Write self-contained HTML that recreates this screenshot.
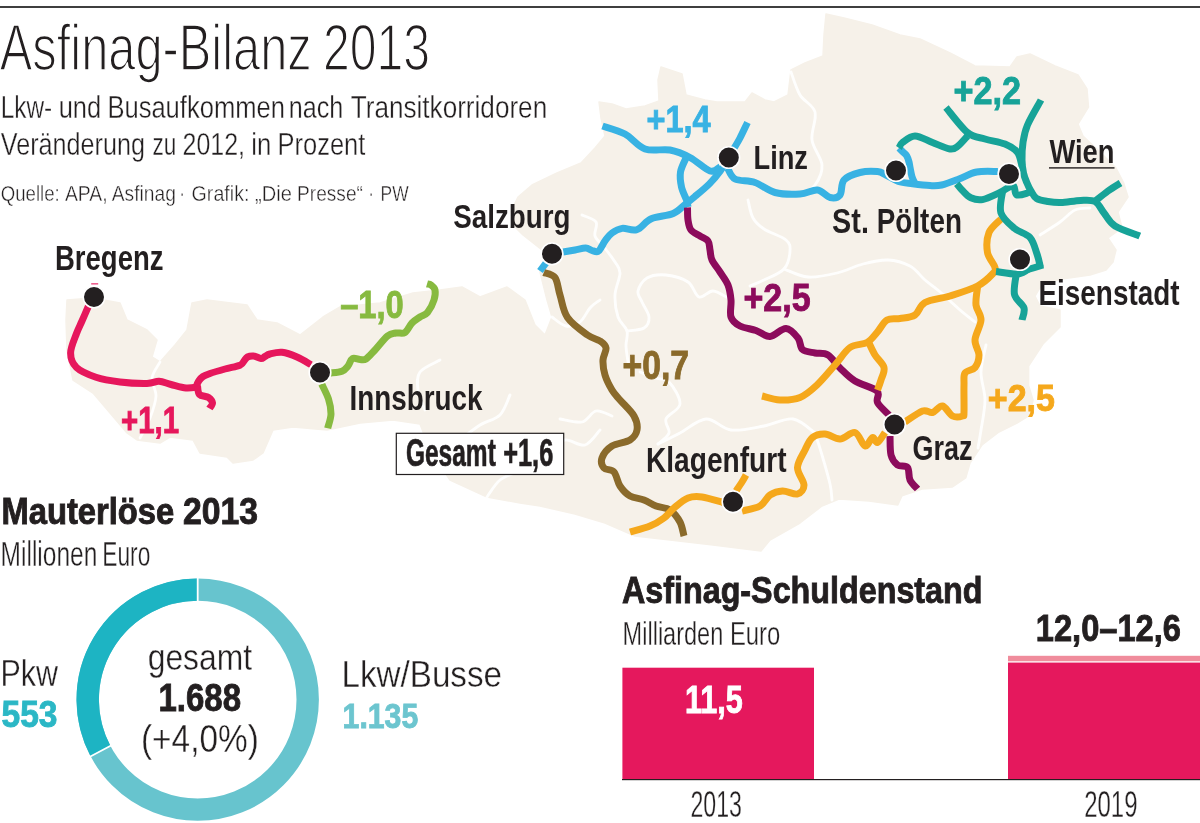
<!DOCTYPE html>
<html lang="de"><head><meta charset="utf-8"><title>Asfinag-Bilanz 2013</title>
<style>
html,body{margin:0;padding:0;background:#fff}
body{width:1200px;height:823px;overflow:hidden}
svg{display:block}
text{font-family:"Liberation Sans",sans-serif;fill:#231f20}
.b{font-weight:bold}
.h{font-weight:bold;stroke:#231f20;stroke-width:.9px}
.c{stroke:none}
.t1{stroke:#fff;stroke-width:1.7px;paint-order:fill stroke}
.lt{stroke:#fff;stroke-width:.35px;paint-order:fill stroke}
.lt2{stroke:#fff;stroke-width:.4px;paint-order:fill stroke}
.r{fill:none;stroke-width:7;stroke-linecap:butt;stroke-linejoin:round}
.bd{fill:none;stroke:#fff;stroke-width:2.8;stroke-linejoin:round;stroke-linecap:round;opacity:.95}
</style></head><body>
<svg width="1200" height="823" viewBox="0 0 1200 823">
<rect width="1200" height="823" fill="#fff"/>

<g fill="#f6f1e9" stroke="#f6f1e9" stroke-width="1.5" stroke-linejoin="round">
<path d="M67.0 300.0L93.0 298.0L120.0 303.0L127.0 320.0L147.0 330.0L157.0 340.0L152.0 357.0L160.0 362.0L175.0 345.0L187.0 330.0L192.0 303.0L207.0 300.0L247.0 305.0L257.0 320.0L277.0 323.0L300.0 335.0L323.0 317.0L340.0 307.0L380.0 303.0L413.0 293.0L440.0 290.0L462.0 287.0L480.0 297.0L507.0 287.0L525.0 300.0L535.0 325.0L545.0 335.0L552.0 317.0L547.0 300.0L540.0 272.0L546.0 262.0L542.0 250.0L523.0 235.0L513.0 225.0L511.0 211.0L518.0 197.0L532.0 185.0L557.0 173.0L581.0 163.0L595.0 148.0L605.0 136.0L601.0 118.0L599.0 102.0L612.0 104.0L626.0 109.0L645.0 106.0L659.0 101.0L658.0 80.0L661.0 67.0L682.0 74.0L686.0 95.0L705.0 100.0L717.0 102.0L745.0 102.0L752.0 93.0L765.0 100.0L774.0 102.0L788.0 95.0L791.0 70.0L805.0 63.0L823.0 56.0L824.0 35.0L826.0 14.0L844.0 18.0L872.0 25.0L900.0 35.0L920.0 39.0L950.0 53.0L975.0 66.0L1010.0 67.0L1017.0 57.0L1030.0 54.0L1055.0 66.0L1078.0 75.0L1087.0 89.0L1088.5 107.0L1078.0 124.0L1083.0 136.0L1100.0 152.0L1116.0 168.0L1123.5 182.5L1128.0 197.0L1118.0 212.0L1122.0 228.0L1108.0 238.0L1116.0 250.0L1113.0 262.0L1106.0 270.0L1090.0 275.0L1062.0 279.0L1042.0 284.0L1035.0 296.0L1040.0 306.0L1060.0 310.0L1060.0 327.0L1043.0 344.0L1028.6 366.0L1028.6 385.5L1033.0 400.0L1030.0 415.0L1017.0 423.0L999.0 432.0L982.0 445.0L970.0 463.0L965.7 478.0L952.5 487.0L922.0 489.0L902.0 495.7L897.8 505.0L869.0 501.0L839.0 499.0L822.0 506.0L800.0 523.0L770.0 540.0L761.0 551.0L713.0 545.0L670.0 540.0L635.0 536.0L605.0 523.0L575.0 514.0L540.0 506.0L520.0 503.0L487.0 497.0L450.0 480.0L430.0 450.0L420.0 424.0L393.0 420.0L360.0 423.0L327.0 430.0L293.0 427.0L273.0 430.0L263.0 453.0L253.0 460.0L233.0 463.0L227.0 457.0L200.0 453.0L193.0 440.0L170.0 437.0L160.0 443.0L137.0 440.0L127.0 433.0L110.0 413.0L93.0 393.0L73.0 380.0L67.0 350.0L66.0 320.0Z"/>
</g>
<g class="bd">
<path d="M160.0 362.0C158.7 364.7 152.7 372.3 152.0 378.0C151.3 383.7 156.3 389.3 156.0 396.0C155.7 402.7 152.7 411.0 150.0 418.0C147.3 425.0 141.7 434.7 140.0 438.0"/>
<path d="M748.0 200.0C748.8 203.0 750.3 213.2 753.0 218.0C755.7 222.8 758.5 225.3 764.0 229.0C769.5 232.7 781.7 236.3 786.0 240.0C790.3 243.7 790.3 246.2 790.0 251.0C789.7 255.8 788.3 264.2 784.0 269.0C779.7 273.8 769.7 277.2 764.0 280.0C758.3 282.8 752.3 285.0 750.0 286.0"/>
<path d="M784.0 269.0C788.0 270.3 799.2 276.3 808.0 277.0C816.8 277.7 827.8 275.2 837.0 273.0C846.2 270.8 854.5 266.2 863.0 264.0C871.5 261.8 880.2 259.7 888.0 260.0C895.8 260.3 903.8 262.7 910.0 266.0C916.2 269.3 920.2 275.8 925.0 280.0C929.8 284.2 933.2 286.0 939.0 291.0C944.8 296.0 954.0 304.8 960.0 310.0C966.0 315.2 972.5 320.0 975.0 322.0"/>
<path d="M552.0 317.0C554.3 318.5 561.3 325.2 566.0 326.0C570.7 326.8 576.0 325.0 580.0 322.0C584.0 319.0 586.7 311.7 590.0 308.0C593.3 304.3 598.3 301.3 600.0 300.0"/>
<path d="M582.0 215.0C584.3 216.2 593.8 218.5 596.0 222.0C598.2 225.5 593.7 231.8 595.0 236.0C596.3 240.2 600.7 242.7 604.0 247.0C607.3 251.3 612.3 257.7 615.0 262.0C617.7 266.3 620.0 267.5 620.0 273.0C620.0 278.5 615.3 287.7 615.0 295.0C614.7 302.3 616.0 311.0 618.0 317.0C620.0 323.0 625.7 326.2 627.0 331.0C628.3 335.8 625.8 340.8 626.0 346.0C626.2 351.2 627.7 359.3 628.0 362.0"/>
<path d="M627.0 331.0C629.8 330.5 640.3 330.3 644.0 328.0C647.7 325.7 649.3 321.3 649.0 317.0C648.7 312.7 643.8 306.3 642.0 302.0C640.2 297.7 637.2 295.0 638.0 291.0C638.8 287.0 642.3 280.7 647.0 278.0C651.7 275.3 659.2 274.3 666.0 275.0C672.8 275.7 682.5 278.3 688.0 282.0C693.5 285.7 694.8 295.5 699.0 297.0C703.2 298.5 708.2 290.8 713.0 291.0C717.8 291.2 725.5 296.8 728.0 298.0"/>
<path d="M640.0 372.0C642.5 373.0 650.2 376.3 655.0 378.0C659.8 379.7 664.8 377.7 669.0 382.0C673.2 386.3 680.5 397.8 680.0 404.0C679.5 410.2 667.8 414.2 666.0 419.0C664.2 423.8 670.3 428.8 669.0 433.0C667.7 437.2 659.8 442.2 658.0 444.0"/>
<path d="M658.0 444.0C661.7 442.2 672.0 437.2 680.0 433.0C688.0 428.8 697.5 419.5 706.0 419.0C714.5 418.5 721.3 428.8 731.0 430.0C740.7 431.2 753.7 427.8 764.0 426.0C774.3 424.2 784.5 417.8 793.0 419.0C801.5 420.2 811.3 430.7 815.0 433.0"/>
<path d="M560.0 419.0C563.7 419.5 576.0 423.3 582.0 422.0C588.0 420.7 591.0 412.0 596.0 411.0C601.0 410.0 609.3 415.2 612.0 416.0"/>
<path d="M815.0 433.0C816.2 436.7 819.5 446.5 822.0 455.0C824.5 463.5 828.3 476.5 830.0 484.0C831.7 491.5 831.7 497.3 832.0 500.0"/>
<path d="M791.0 72.0C792.5 75.8 796.0 88.3 800.0 95.0C804.0 101.7 813.0 104.5 815.0 112.0C817.0 119.5 810.8 131.2 812.0 140.0C813.2 148.8 821.5 157.5 822.0 165.0C822.5 172.5 818.7 180.0 815.0 185.0C811.3 190.0 802.5 193.3 800.0 195.0"/>
<path d="M1040.0 235.0C1043.3 232.8 1054.2 226.2 1060.0 222.0C1065.8 217.8 1070.0 212.3 1075.0 210.0C1080.0 207.7 1087.5 208.3 1090.0 208.0"/>
<path d="M978.0 448.0C978.5 445.0 979.8 438.0 981.0 430.0C982.2 422.0 985.0 409.7 985.0 400.0C985.0 390.3 980.8 381.2 981.0 372.0C981.2 362.8 985.2 349.5 986.0 345.0"/>
<path d="M487.0 497.0C489.2 494.2 494.5 484.5 500.0 480.0C505.5 475.5 512.0 475.0 520.0 470.0C528.0 465.0 540.5 455.0 548.0 450.0C555.5 445.0 558.8 440.8 565.0 440.0C571.2 439.2 579.2 446.7 585.0 445.0C590.8 443.3 597.5 432.5 600.0 430.0"/>
<path d="M460.0 440.0C463.3 437.5 473.3 429.2 480.0 425.0C486.7 420.8 495.0 420.0 500.0 415.0C505.0 410.0 508.3 398.3 510.0 395.0"/>
<path d="M440.0 360.0C436.7 362.0 423.7 367.0 420.0 372.0C416.3 377.0 417.2 383.7 418.0 390.0C418.8 396.3 423.8 406.7 425.0 410.0"/>
</g>
<rect x="0" y="6.1" width="1200" height="1.8" fill="#2b2b2b"/>
<g class="r" stroke="#e6175c">
<path d="M88.5 306.0C87.4 308.5 84.0 316.4 82.0 321.0C80.0 325.6 78.4 328.2 76.5 333.5C74.6 338.8 70.6 347.3 70.6 353.0C70.6 358.7 72.3 363.5 76.5 367.5C80.7 371.5 88.8 374.8 96.0 377.2C103.2 379.6 111.5 380.9 120.0 382.0C128.5 383.1 140.5 383.6 147.0 383.5C153.5 383.4 155.0 381.1 159.0 381.3C163.0 381.5 166.5 383.4 171.0 384.5C175.5 385.6 181.5 387.6 186.0 388.0C190.5 388.4 196.0 387.2 198.0 387.0"/>
<path d="M196.0 387.3C196.4 386.2 197.5 382.8 198.7 381.0C199.9 379.2 201.1 377.8 203.0 376.5C204.9 375.2 206.3 374.8 210.0 373.5C213.7 372.2 220.0 370.4 225.0 369.0C230.0 367.6 236.8 366.5 240.0 365.2C243.2 363.9 242.8 362.4 244.0 361.0C245.2 359.6 245.9 357.8 247.5 357.0C249.1 356.2 251.2 355.8 253.5 356.0C255.8 356.2 259.1 358.4 261.0 358.5C262.9 358.6 263.5 357.2 265.0 356.5C266.5 355.8 267.2 354.7 270.0 354.0C272.8 353.3 277.5 351.8 282.0 352.3C286.5 352.8 292.2 354.9 297.0 357.0C301.8 359.1 308.7 363.4 311.0 364.7"/>
<path d="M197.5 386.0C197.8 387.4 197.7 392.6 199.5 394.5C201.3 396.4 206.3 396.1 208.5 397.5C210.7 398.9 212.3 401.2 212.5 403.0C212.7 404.8 210.0 407.6 209.5 408.5"/>
</g>
<g class="r" stroke="#87ba40">
<path d="M330.0 373.0C332.0 372.7 339.0 372.4 342.0 371.2C345.0 370.0 346.2 368.1 348.0 366.0C349.8 363.9 350.5 359.6 352.5 358.5C354.5 357.4 357.8 359.4 360.0 359.5C362.2 359.6 363.5 360.6 366.0 359.0C368.5 357.4 371.4 353.8 375.0 350.0C378.6 346.2 384.0 338.8 387.5 336.0C391.0 333.2 393.1 333.6 396.0 333.0C398.9 332.4 402.3 334.2 405.0 332.5C407.7 330.8 409.5 325.6 412.0 323.0C414.5 320.4 417.4 318.8 420.0 317.0C422.6 315.2 425.2 315.3 427.5 312.5C429.8 309.7 432.8 303.8 434.0 300.0C435.2 296.2 435.5 292.5 435.0 290.0C434.5 287.5 432.3 286.0 431.0 285.0C429.7 284.0 427.7 284.2 427.0 284.0"/>
<path d="M321.7 384.0C322.8 386.5 326.9 394.0 328.5 399.0C330.1 404.0 331.1 409.1 331.0 414.0C330.9 418.9 328.2 425.8 327.7 428.2"/>
</g>
<g class="r" stroke="#38b2e3">
<path d="M563.0 252.0C565.0 251.7 571.2 250.7 575.0 250.0C578.8 249.3 582.9 247.9 585.7 248.0C588.5 248.1 590.0 249.9 592.0 250.5C594.0 251.1 596.2 252.2 597.9 251.5C599.6 250.8 600.8 247.8 602.0 246.0C603.2 244.2 603.5 242.8 605.2 240.6C606.9 238.4 609.2 235.0 612.0 233.0C614.8 231.0 618.1 229.0 622.2 228.4C626.3 227.8 631.9 231.3 636.7 229.7C641.6 228.1 645.2 221.4 651.3 218.7C657.4 216.0 667.5 216.0 673.2 213.5C678.9 211.0 682.1 206.7 685.7 203.9C689.3 201.1 690.8 199.9 694.8 196.6C698.8 193.3 705.1 188.2 709.4 183.9C713.6 179.6 717.4 175.0 720.3 171.0C723.2 167.0 725.9 161.8 727.0 160.0"/>
<path d="M546.0 263.0C545.0 264.3 541.0 269.7 540.0 271.0"/>
<path d="M602.5 126.0C606.2 127.3 617.9 130.2 625.0 134.0C632.1 137.8 637.5 146.3 645.0 149.0C652.5 151.7 662.5 148.6 670.0 150.0C677.5 151.4 683.3 154.0 690.0 157.5C696.7 161.0 705.0 169.4 710.0 171.0C715.0 172.6 718.3 167.7 720.0 167.0"/>
<path d="M686.5 157.0C685.5 159.5 681.3 167.0 680.5 172.0C679.7 177.0 680.5 182.3 681.5 187.0C682.5 191.7 685.4 196.7 686.5 200.0C687.6 203.3 687.8 205.8 688.0 207.0"/>
<path d="M733.0 150.0C734.2 148.0 737.6 142.6 740.0 138.0C742.4 133.4 746.2 125.1 747.5 122.5"/>
<path d="M727.5 168.0C728.8 169.8 730.4 176.6 735.0 179.0C739.6 181.4 748.3 180.2 755.0 182.5C761.7 184.8 767.5 190.6 775.0 192.5C782.5 194.4 792.9 194.4 800.0 194.0C807.1 193.6 812.5 189.4 817.5 190.0C822.5 190.6 826.2 196.7 830.0 197.5C833.8 198.3 837.7 197.9 840.0 195.0C842.3 192.1 840.7 183.8 844.0 180.0C847.3 176.2 854.4 173.9 860.0 172.5C865.6 171.1 873.2 171.2 877.5 171.6C881.8 172.0 882.5 173.3 886.0 175.0C889.5 176.7 894.1 180.0 898.5 181.5C902.9 183.0 907.2 183.1 912.5 183.8C917.8 184.5 925.1 185.4 930.0 185.6C934.9 185.8 936.9 186.1 941.7 185.0C946.5 183.9 953.2 181.2 959.0 179.0C964.8 176.8 970.2 173.2 976.7 172.0C983.2 170.8 994.5 171.6 998.0 171.5"/>
<path d="M899.0 148.0C899.7 148.7 901.7 150.7 903.0 152.0C904.3 153.3 905.7 154.1 906.7 155.8C907.7 157.5 908.5 160.1 909.0 162.0C909.5 163.9 909.5 165.0 910.0 167.5C910.5 170.0 911.2 174.2 912.0 176.8C912.8 179.4 914.3 182.0 914.8 183.0"/>
</g>
<g class="r" stroke="#8a6a2b">
<path d="M543.8 272.5C545.6 273.3 552.3 273.8 555.0 277.5C557.7 281.2 557.9 288.3 560.0 295.0C562.1 301.7 562.9 310.8 567.5 317.5C572.1 324.2 582.1 331.1 587.5 335.0C592.9 338.9 596.9 338.8 600.0 341.0C603.1 343.2 605.5 344.8 606.0 348.0C606.5 351.2 603.2 355.5 603.0 360.0C602.8 364.5 603.5 370.0 605.0 375.0C606.5 380.0 609.5 385.8 612.0 390.0C614.5 394.2 616.3 395.7 620.0 400.0C623.7 404.3 631.2 411.0 634.0 416.0C636.8 421.0 637.7 426.0 637.0 430.0C636.3 434.0 634.2 437.3 630.0 440.0C625.8 442.7 616.7 443.0 612.0 446.0C607.3 449.0 603.3 454.3 602.0 458.0C600.7 461.7 602.0 465.7 604.0 468.0C606.0 470.3 611.3 469.0 614.0 472.0C616.7 475.0 617.3 482.0 620.0 486.0C622.7 490.0 626.0 493.7 630.0 496.0C634.0 498.3 639.7 498.3 644.0 500.0C648.3 501.7 651.7 504.3 656.0 506.0C660.3 507.7 666.0 507.3 670.0 510.0C674.0 512.7 677.7 517.7 680.0 522.0C682.3 526.3 683.3 533.7 684.0 536.0"/>
</g>
<g class="r" stroke="#8c0b5c">
<path d="M687.5 207.5C687.6 209.6 687.4 216.2 688.0 220.0C688.6 223.8 689.0 227.3 691.0 230.0C693.0 232.7 697.2 234.2 700.0 236.0C702.8 237.8 706.3 238.7 708.0 241.0C709.7 243.3 709.3 246.8 710.0 250.0C710.7 253.2 710.3 256.3 712.0 260.0C713.7 263.7 717.3 267.8 720.0 272.0C722.7 276.2 726.2 280.3 728.0 285.0C729.8 289.7 730.5 294.7 731.0 300.0C731.5 305.3 729.5 312.7 731.0 317.0C732.5 321.3 735.8 323.8 740.0 326.0C744.2 328.2 751.0 328.8 756.0 330.5C761.0 332.2 765.0 336.8 770.0 336.5C775.0 336.2 781.3 328.2 786.0 328.5C790.7 328.8 795.2 334.5 798.0 338.0C800.8 341.5 799.7 347.0 802.5 349.5C805.3 352.0 810.8 352.1 815.0 353.0C819.2 353.9 823.8 352.5 828.0 355.0C832.2 357.5 835.5 363.7 840.0 368.0C844.5 372.3 848.8 377.2 855.0 381.0C861.2 384.8 873.2 387.4 877.0 391.0C880.8 394.6 875.5 398.5 877.5 402.5C879.5 406.5 887.1 412.9 889.0 415.0"/>
<path d="M890.0 436.0C890.2 439.2 889.8 450.2 891.0 455.0C892.2 459.8 894.8 462.9 897.5 465.0C900.2 467.1 905.4 465.0 907.5 467.5C909.6 470.0 908.3 476.4 910.0 480.0C911.7 483.6 916.2 487.5 917.5 489.0"/>
</g>
<g class="r" stroke="#f5a81c">
<path d="M762.0 396.0C765.0 396.7 773.7 399.8 780.0 400.0C786.3 400.2 793.8 400.0 800.0 397.5C806.2 395.0 811.2 390.4 817.0 385.0C822.8 379.6 829.5 371.2 835.0 365.0C840.5 358.8 844.7 351.2 850.0 347.5C855.3 343.8 862.5 345.0 867.0 342.5C871.5 340.0 873.7 336.2 877.0 332.5C880.3 328.8 883.2 322.3 887.0 320.0C890.8 317.7 895.3 319.3 900.0 318.5C904.7 317.7 910.8 317.7 915.0 315.0C919.2 312.3 919.2 305.7 925.0 302.5C930.8 299.3 941.2 298.8 950.0 296.0C958.8 293.2 970.4 289.7 977.5 286.0C984.6 282.3 989.6 277.1 992.5 274.0C995.4 270.9 995.8 271.1 995.0 267.5C994.2 263.9 988.5 258.3 987.5 252.5C986.5 246.7 986.8 238.1 989.0 232.5C991.2 226.9 999.0 221.2 1001.0 219.0"/>
<path d="M869.0 343.0C870.0 345.0 872.5 350.9 875.0 355.0C877.5 359.1 883.0 363.3 884.0 367.5C885.0 371.7 882.1 376.2 881.0 380.0C879.9 383.8 878.1 388.3 877.5 390.0"/>
<path d="M977.5 287.5C977.2 290.4 975.4 299.6 976.0 305.0C976.6 310.4 981.2 314.2 981.0 320.0C980.8 325.8 975.3 334.2 975.0 340.0C974.7 345.8 979.0 350.4 979.0 355.0C979.0 359.6 977.3 364.5 975.0 367.5C972.7 370.5 966.8 370.1 965.0 373.0C963.2 375.9 964.2 378.5 964.0 385.0C963.8 391.5 964.2 406.8 964.0 412.0C963.8 417.2 964.4 415.3 962.5 416.0C960.6 416.7 955.8 417.7 952.5 416.0C949.2 414.3 945.8 406.6 942.5 406.0C939.2 405.4 935.8 411.7 932.5 412.5C929.2 413.3 927.1 409.4 922.5 411.0C917.9 412.6 907.9 420.2 905.0 422.0"/>
<path d="M885.0 432.5C883.8 434.2 879.6 441.7 877.5 442.5C875.4 443.3 874.6 436.9 872.5 437.5C870.4 438.1 867.9 446.8 865.0 446.0C862.1 445.2 859.2 433.7 855.0 432.5C850.8 431.3 845.0 438.8 840.0 439.0C835.0 439.2 829.6 434.2 825.0 434.0C820.4 433.8 815.8 434.8 812.5 437.5C809.2 440.2 807.5 445.0 805.0 450.0C802.5 455.0 797.7 461.7 797.5 467.5C797.3 473.3 804.0 480.6 804.0 485.0C804.0 489.4 801.1 493.0 797.5 494.0C793.9 495.0 787.1 490.8 782.5 491.0C777.9 491.2 773.8 492.5 770.0 495.0C766.2 497.5 764.7 503.3 760.0 506.0C755.3 508.7 745.0 510.2 742.0 511.0"/>
<path d="M736.0 491.0C737.0 489.5 740.3 484.7 742.0 482.0C743.7 479.3 745.3 476.2 746.0 475.0"/>
<path d="M723.0 502.5C719.5 501.6 707.8 497.8 702.0 497.0C696.2 496.2 692.7 496.2 688.0 498.0C683.3 499.8 678.0 504.7 674.0 508.0C670.0 511.3 668.0 515.0 664.0 518.0C660.0 521.0 655.7 523.7 650.0 526.0C644.3 528.3 633.3 531.0 630.0 532.0"/>
</g>
<g class="r" stroke="#17a398">
<path d="M946.0 107.5C949.6 111.7 961.0 127.2 967.5 132.5C974.0 137.8 978.8 137.1 985.0 139.0C991.2 140.9 999.6 141.8 1005.0 144.0C1010.4 146.2 1014.7 148.8 1017.5 152.5C1020.3 156.2 1021.2 163.8 1022.0 166.0"/>
<path d="M1041.0 100.0C1038.8 104.2 1030.5 117.9 1027.5 125.0C1024.5 132.1 1023.9 136.7 1023.0 142.5C1022.1 148.3 1021.9 154.9 1022.0 160.0C1022.1 165.1 1022.7 169.2 1023.5 173.0C1024.3 176.8 1025.8 180.0 1027.0 183.0C1028.2 186.0 1029.4 188.4 1031.0 191.0C1032.6 193.6 1033.8 196.8 1036.6 198.5C1039.4 200.2 1043.9 200.8 1048.0 201.5C1052.1 202.2 1055.6 202.7 1061.0 202.5C1066.4 202.3 1074.9 200.6 1080.6 200.4C1086.3 200.2 1091.1 199.4 1095.0 201.5C1098.9 203.6 1100.7 208.9 1104.0 213.0C1107.3 217.1 1109.0 222.2 1115.0 226.0C1121.0 229.8 1135.7 234.3 1139.8 236.0"/>
<path d="M967.5 136.0C965.9 137.7 960.9 143.8 958.0 146.0C955.1 148.2 954.2 149.6 950.0 149.0C945.8 148.4 938.3 144.7 932.5 142.5C926.7 140.3 920.0 136.0 915.0 136.0C910.0 136.0 905.2 140.5 902.5 142.5C899.8 144.5 899.6 147.1 899.0 148.0"/>
<path d="M956.8 183.8C957.8 185.0 960.4 188.5 962.7 190.8C965.0 193.1 967.5 196.3 970.8 197.8C974.1 199.3 977.6 200.5 982.5 199.6C987.4 198.7 994.9 194.8 1000.0 192.5C1005.1 190.2 1010.2 185.3 1013.0 185.7C1015.8 186.1 1014.1 193.6 1016.5 194.8C1018.9 196.0 1024.9 193.8 1027.5 193.0C1030.1 192.2 1031.2 190.5 1032.0 190.0"/>
<path d="M1094.0 202.0C1096.3 200.2 1103.6 194.2 1108.0 191.0C1112.4 187.8 1118.4 184.3 1120.5 183.0"/>
<path d="M1002.8 190.0C1002.5 193.8 998.9 206.4 1000.9 212.8C1002.9 219.2 1009.6 224.3 1014.5 228.4C1019.4 232.5 1026.2 233.2 1030.0 237.5C1033.8 241.8 1035.2 249.0 1037.0 254.0C1038.8 259.0 1039.9 265.2 1040.5 267.5"/>
<path d="M1043.0 265.0C1040.5 265.8 1030.5 268.8 1028.0 269.5"/>
<path d="M996.0 271.5C999.7 271.9 1012.7 274.6 1018.4 274.0C1024.1 273.4 1028.1 269.0 1030.0 268.0"/>
<path d="M1016.4 273.0C1016.1 276.6 1013.2 288.7 1014.5 294.5C1015.8 300.3 1022.8 303.8 1024.0 308.0C1025.2 312.2 1022.3 318.0 1022.0 320.0"/>
</g>
<g fill="#231f20" stroke="#fff" stroke-width="1.6">
<circle cx="94.0" cy="297.0" r="10.8"/>
<circle cx="320.0" cy="372.5" r="10.8"/>
<circle cx="552.0" cy="253.8" r="10.8"/>
<circle cx="728.8" cy="157.5" r="10.8"/>
<circle cx="896.0" cy="170.5" r="10.8"/>
<circle cx="1009.0" cy="174.0" r="10.8"/>
<circle cx="1020.0" cy="259.5" r="10.8"/>
<circle cx="733.0" cy="501.8" r="10.8"/>
<circle cx="894.5" cy="424.5" r="10.8"/>
</g>

<rect x="91.2" y="283.2" width="7" height="1.3" fill="#e6175c" opacity=".85"/>
<rect x="396.3" y="433.3" width="167.4" height="41.2" fill="#fff" stroke="#231f20" stroke-width="1.2"/>
<rect x="1049" y="167.2" width="65.5" height="1.4" fill="#231f20"/>
<g transform="translate(197.7,699.6)">
<circle r="110" fill="none" stroke="#67c4ce" stroke-width="22.4"/>
<path d="M0 -110A110 110 0 0 0 -97.2 51.5" fill="none" stroke="#1db4c3" stroke-width="22.4"/>
<path d="M0 -122V-98M-107.8 57.1L-86.6 45.9" stroke="#fff" stroke-width="1.8"/>
</g>
<rect x="622.4" y="667.7" width="191.6" height="111.8" fill="#e5185d"/>
<rect x="1008" y="662.4" width="192" height="117.1" fill="#e5185d"/>
<rect x="1008" y="655.8" width="192" height="5.4" fill="#f08c9c"/><rect x="1008" y="661.2" width="192" height="1.2" fill="#fbdde3"/>
<rect x="622" y="779" width="578" height="1.2" fill="#231f20"/>

<text x="-0.2" y="69.8" font-size="65.0" textLength="311.9" lengthAdjust="spacingAndGlyphs" class="t1">Asfinag-Bilanz</text>
<text x="323.0" y="69.8" font-size="65.0" textLength="107.1" lengthAdjust="spacingAndGlyphs" class="t1">2013</text>
<text x="0.7" y="118.4" font-size="31.8" textLength="51.5" lengthAdjust="spacingAndGlyphs" class="lt">Lkw-</text>
<text x="58.7" y="118.4" font-size="31.8" textLength="42.5" lengthAdjust="spacingAndGlyphs" class="lt">und</text>
<text x="107.4" y="118.4" font-size="31.8" textLength="177.5" lengthAdjust="spacingAndGlyphs" class="lt">Busaufkommen</text>
<text x="288.7" y="118.4" font-size="31.8" textLength="54.5" lengthAdjust="spacingAndGlyphs" class="lt">nach</text>
<text x="350.7" y="118.4" font-size="31.8" textLength="196.5" lengthAdjust="spacingAndGlyphs" class="lt">Transitkorridoren</text>
<text x="0.8" y="154.7" font-size="31.2" textLength="144.2" lengthAdjust="spacingAndGlyphs" class="lt">Veränderung</text>
<text x="152.5" y="154.7" font-size="31.2" textLength="23.8" lengthAdjust="spacingAndGlyphs" class="lt">zu</text>
<text x="182.5" y="154.7" font-size="31.2" textLength="62.5" lengthAdjust="spacingAndGlyphs" class="lt">2012,</text>
<text x="251.3" y="154.7" font-size="31.2" textLength="20.0" lengthAdjust="spacingAndGlyphs" class="lt">in</text>
<text x="277.5" y="154.7" font-size="31.2" textLength="87.8" lengthAdjust="spacingAndGlyphs" class="lt">Prozent</text>
<text x="0.8" y="200.7" font-size="22.7" textLength="58.9" lengthAdjust="spacingAndGlyphs" class="lt2">Quelle:</text>
<text x="64.9" y="200.7" font-size="22.7" textLength="42.7" lengthAdjust="spacingAndGlyphs" class="lt2">APA,</text>
<text x="111.8" y="200.7" font-size="22.7" textLength="64.1" lengthAdjust="spacingAndGlyphs" class="lt2">Asfinag</text>
<text x="179.6" y="200.7" font-size="22.7" textLength="5.3" lengthAdjust="spacingAndGlyphs" class="lt2">·</text>
<text x="191.6" y="200.7" font-size="22.7" textLength="57.8" lengthAdjust="spacingAndGlyphs" class="lt2">Grafik:</text>
<text x="255.1" y="200.7" font-size="22.7" textLength="36.8" lengthAdjust="spacingAndGlyphs" class="lt2">„Die</text>
<text x="297.1" y="200.7" font-size="22.7" textLength="65.8" lengthAdjust="spacingAndGlyphs" class="lt2">Presse“</text>
<text x="368.6" y="200.7" font-size="22.7" textLength="5.3" lengthAdjust="spacingAndGlyphs" class="lt2">·</text>
<text x="380.6" y="200.7" font-size="22.7" textLength="28.0" lengthAdjust="spacingAndGlyphs" class="lt2">PW</text>
<text x="55.0" y="269.6" font-size="34.7" textLength="108.5" lengthAdjust="spacingAndGlyphs" class="b c">Bregenz</text>
<text x="453.3" y="227.8" font-size="32.8" textLength="117.2" lengthAdjust="spacingAndGlyphs" class="b c">Salzburg</text>
<text x="349.5" y="409.6" font-size="34.7" textLength="133.0" lengthAdjust="spacingAndGlyphs" class="b c">Innsbruck</text>
<text x="753.5" y="168.5" font-size="33.4" textLength="54.5" lengthAdjust="spacingAndGlyphs" class="b c">Linz</text>
<text x="832.1" y="233.3" font-size="35.7" textLength="36.8" lengthAdjust="spacingAndGlyphs" class="b c">St.</text>
<text x="876.8" y="233.3" font-size="35.7" textLength="85.1" lengthAdjust="spacingAndGlyphs" class="b c">Pölten</text>
<text x="1049.5" y="163.0" font-size="32.4" textLength="65.0" lengthAdjust="spacingAndGlyphs" class="b c">Wien</text>
<text x="1038.5" y="304.8" font-size="35.0" textLength="141.0" lengthAdjust="spacingAndGlyphs" class="b c">Eisenstadt</text>
<text x="646.0" y="471.8" font-size="34.3" textLength="140.5" lengthAdjust="spacingAndGlyphs" class="b c">Klagenfurt</text>
<text x="912.5" y="460.3" font-size="35.3" textLength="60.0" lengthAdjust="spacingAndGlyphs" class="b c">Graz</text>
<text x="405.9" y="465.6" font-size="38.3" textLength="89.9" lengthAdjust="spacingAndGlyphs" class="h" style="stroke-width:.7px">Gesamt</text>
<text x="503.2" y="465.6" font-size="38.3" textLength="50.1" lengthAdjust="spacingAndGlyphs" class="h" style="stroke-width:.7px">+1,6</text>
<text x="121.0" y="432.5" font-size="37.0" textLength="58.1" lengthAdjust="spacingAndGlyphs" class="b" style="fill:#e6175c;stroke:#e6175c;stroke-width:0.9px">+1,1</text>
<text x="340.2" y="317.5" font-size="39.1" textLength="63.5" lengthAdjust="spacingAndGlyphs" class="b" style="fill:#87ba40;stroke:#87ba40;stroke-width:0.9px">–1,0</text>
<text x="646.5" y="131.5" font-size="37.7" textLength="64.1" lengthAdjust="spacingAndGlyphs" class="b" style="fill:#38b2e3;stroke:#38b2e3;stroke-width:0.9px">+1,4</text>
<text x="622.5" y="378.8" font-size="40.6" textLength="66.6" lengthAdjust="spacingAndGlyphs" class="b" style="fill:#8a6a2b;stroke:#8a6a2b;stroke-width:0.9px">+0,7</text>
<text x="743.5" y="310.5" font-size="39.1" textLength="67.1" lengthAdjust="spacingAndGlyphs" class="b" style="fill:#8c0b5c;stroke:#8c0b5c;stroke-width:0.9px">+2,5</text>
<text x="987.8" y="410.5" font-size="37.7" textLength="67.1" lengthAdjust="spacingAndGlyphs" class="b" style="fill:#f5a81c;stroke:#f5a81c;stroke-width:0.9px">+2,5</text>
<text x="953.5" y="103.5" font-size="38.4" textLength="67.6" lengthAdjust="spacingAndGlyphs" class="b" style="fill:#17a398;stroke:#17a398;stroke-width:0.9px">+2,2</text>
<text x="1.4" y="524.4" font-size="36.0" textLength="172.9" lengthAdjust="spacingAndGlyphs" class="h">Mauterlöse</text>
<text x="183.1" y="524.4" font-size="36.0" textLength="75.0" lengthAdjust="spacingAndGlyphs" class="h">2013</text>
<text x="0.6" y="566.4" font-size="34.3" textLength="96.7" lengthAdjust="spacingAndGlyphs" class="lt">Millionen</text>
<text x="102.3" y="566.4" font-size="34.3" textLength="48.0" lengthAdjust="spacingAndGlyphs" class="lt">Euro</text>
<text x="0.5" y="686.4" font-size="36.0" textLength="57.5" lengthAdjust="spacingAndGlyphs" class="lt">Pkw</text>
<text x="1.5" y="727.3" font-size="36.0" textLength="56.0" lengthAdjust="spacingAndGlyphs" class="b" style="fill:#2bb7c5;stroke:#2bb7c5;stroke-width:0.9px">553</text>
<text x="147.7" y="670.0" font-size="36.0" textLength="104.3" lengthAdjust="spacingAndGlyphs" class="lt">gesamt</text>
<text x="158.5" y="711.3" font-size="38.2" textLength="82.5" lengthAdjust="spacingAndGlyphs" class="h">1.688</text>
<text x="141.0" y="752.1" font-size="38.4" textLength="117.8" lengthAdjust="spacingAndGlyphs" class="lt">(+4,0%)</text>
<text x="341.5" y="686.7" font-size="36.5" textLength="160.5" lengthAdjust="spacingAndGlyphs" class="lt">Lkw/Busse</text>
<text x="342.6" y="727.5" font-size="35.5" textLength="75.6" lengthAdjust="spacingAndGlyphs" class="b" style="fill:#6cc5cf;stroke:#6cc5cf;stroke-width:0.9px">1.135</text>
<text x="622.0" y="603.4" font-size="36.7" textLength="360.5" lengthAdjust="spacingAndGlyphs" class="h">Asfinag-Schuldenstand</text>
<text x="622.6" y="644.5" font-size="33.9" textLength="100.7" lengthAdjust="spacingAndGlyphs" class="lt">Milliarden</text>
<text x="729.9" y="644.5" font-size="33.9" textLength="50.4" lengthAdjust="spacingAndGlyphs" class="lt">Euro</text>
<text x="684.9" y="713.2" font-size="38.7" textLength="57.8" lengthAdjust="spacingAndGlyphs" class="b" style="fill:#fff;stroke:#fff;stroke-width:0.9px">11,5</text>
<text x="1035.8" y="640.8" font-size="37.6" textLength="145.2" lengthAdjust="spacingAndGlyphs" class="h">12,0–12,6</text>
<text x="690.5" y="816.8" font-size="37.2" textLength="51.5" lengthAdjust="spacingAndGlyphs" class="lt">2013</text>
<text x="1084.2" y="816.8" font-size="37.2" textLength="53.3" lengthAdjust="spacingAndGlyphs" class="lt">2019</text>
</svg></body></html>
